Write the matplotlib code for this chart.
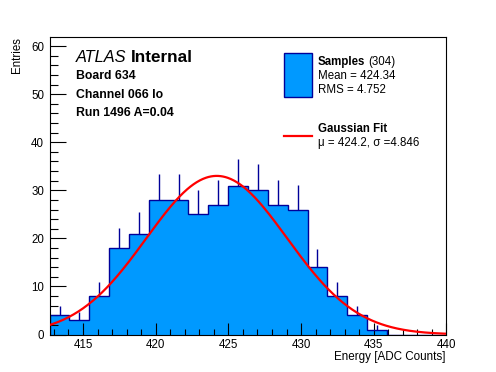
import numpy as np
import matplotlib
matplotlib.use("Agg")
import matplotlib.pyplot as plt
from matplotlib.patches import Rectangle
from matplotlib.lines import Line2D
from matplotlib.ticker import MultipleLocator

plt.rcParams['font.family'] = ['Liberation Sans', 'DejaVu Sans']

# histogram data
bin_lo = 412.7
bin_width = 1.365
counts = [4, 3, 8, 18, 21, 28, 28, 25, 27, 31, 30, 27, 26, 14, 8, 4, 1, 0, 0, 0]

# gaussian fit parameters
fit_mu = 424.2
fit_sigma = 4.846
fit_amp = 33.0

n_samples = 304
mean_val = 424.34
rms_val = 4.752

x_max = 440.0
y_max = 61.9

counts = np.array(counts, dtype=float)
edges = bin_lo + bin_width * np.arange(len(counts) + 1)
centers = 0.5 * (edges[:-1] + edges[1:])

W, H = 496, 372
fig = plt.figure(figsize=(W / 100, H / 100), dpi=100)
ax = fig.add_axes([49.6 / W, (H - 334.5) / H, (446.4 - 49.6) / W, (334.5 - 37) / H])

fill_col = '#0099ff'
edge_col = '#000099'

ax.stairs(counts, edges, fill=True, color=fill_col, zorder=1)
ax.stairs(counts, edges, color=edge_col, lw=1.0, zorder=2)
nz = counts > 0
ax.vlines(centers[nz], counts[nz], counts[nz] + np.sqrt(counts[nz]), color=edge_col, lw=1.0, zorder=2)

xf = np.linspace(bin_lo, x_max, 500)
yf = fit_amp * np.exp(-0.5 * ((xf - fit_mu) / fit_sigma) ** 2)
ax.plot(xf, yf, color='red', lw=1.6, zorder=3)

ax.set_xlim(bin_lo, x_max)
ax.set_ylim(0, y_max)
ax.xaxis.set_major_locator(MultipleLocator(5))
ax.xaxis.set_minor_locator(MultipleLocator(1))
ax.yaxis.set_major_locator(MultipleLocator(10))
ax.yaxis.set_minor_locator(MultipleLocator(2))
ax.tick_params(which='both', direction='in', top=False, right=False, labelsize=8.3, width=0.8)
ax.tick_params(axis='y', which='major', length=11.5, pad=4)
ax.tick_params(axis='y', which='minor', length=6)
ax.tick_params(axis='x', which='major', length=8.5, pad=3)
ax.tick_params(axis='x', which='minor', length=4.5)
for s in ax.spines.values():
    s.set_linewidth(0.8)

fig.text(446 / W, 1 - 357 / H, 'Energy [ADC Counts]', ha='right', va='center', fontsize=8.4)
fig.text(17 / W, 1 - 37 / H, 'Entries', ha='center', va='top', rotation=90, fontsize=8.3)

# ATLAS label block
fig.text(76 / W, 1 - 58 / H, 'ATLAS', style='italic', fontsize=11.8, va='center')
fig.text(131 / W, 1 - 58 / H, 'Internal', weight='bold', fontsize=12.3, va='center')
fig.text(76 / W, 1 - 76 / H, 'Board 634', weight='bold', fontsize=8.8, va='center')
fig.text(76 / W, 1 - 95 / H, 'Channel 066 lo', weight='bold', fontsize=8.8, va='center')
fig.text(76 / W, 1 - 113 / H, 'Run 1496 A=0.04', weight='bold', fontsize=8.8, va='center')

# legend
fig.patches.append(Rectangle((283.5 / W, 1 - 96.7 / H), 28 / W, 43.4 / H, transform=fig.transFigure,
                             facecolor=fill_col, edgecolor=edge_col, lw=1.0))
fig.lines.append(Line2D([283.5 / W, 311.5 / W], [1 - 136 / H, 1 - 136 / H], transform=fig.transFigure,
                        color='red', lw=1.6))
fig.text(318 / W, 1 - 62 / H, 'Samples', weight='bold', fontsize=8.3, va='center')
fig.text(368 / W, 1 - 62 / H, '(%d)' % n_samples, fontsize=8.3, va='center')
fig.text(318 / W, 1 - 76 / H, 'Mean = %.2f' % mean_val, fontsize=8.3, va='center')
fig.text(318 / W, 1 - 90 / H, 'RMS = %.3f' % rms_val, fontsize=8.3, va='center')
fig.text(318 / W, 1 - 129 / H, 'Gaussian Fit', weight='bold', fontsize=8.3, va='center')
fig.text(318 / W, 1 - 143 / H, 'μ = %.1f, σ =%.3f' % (fit_mu, fit_sigma), fontsize=8.3, va='center')

fig.savefig('out.png', dpi=100)
